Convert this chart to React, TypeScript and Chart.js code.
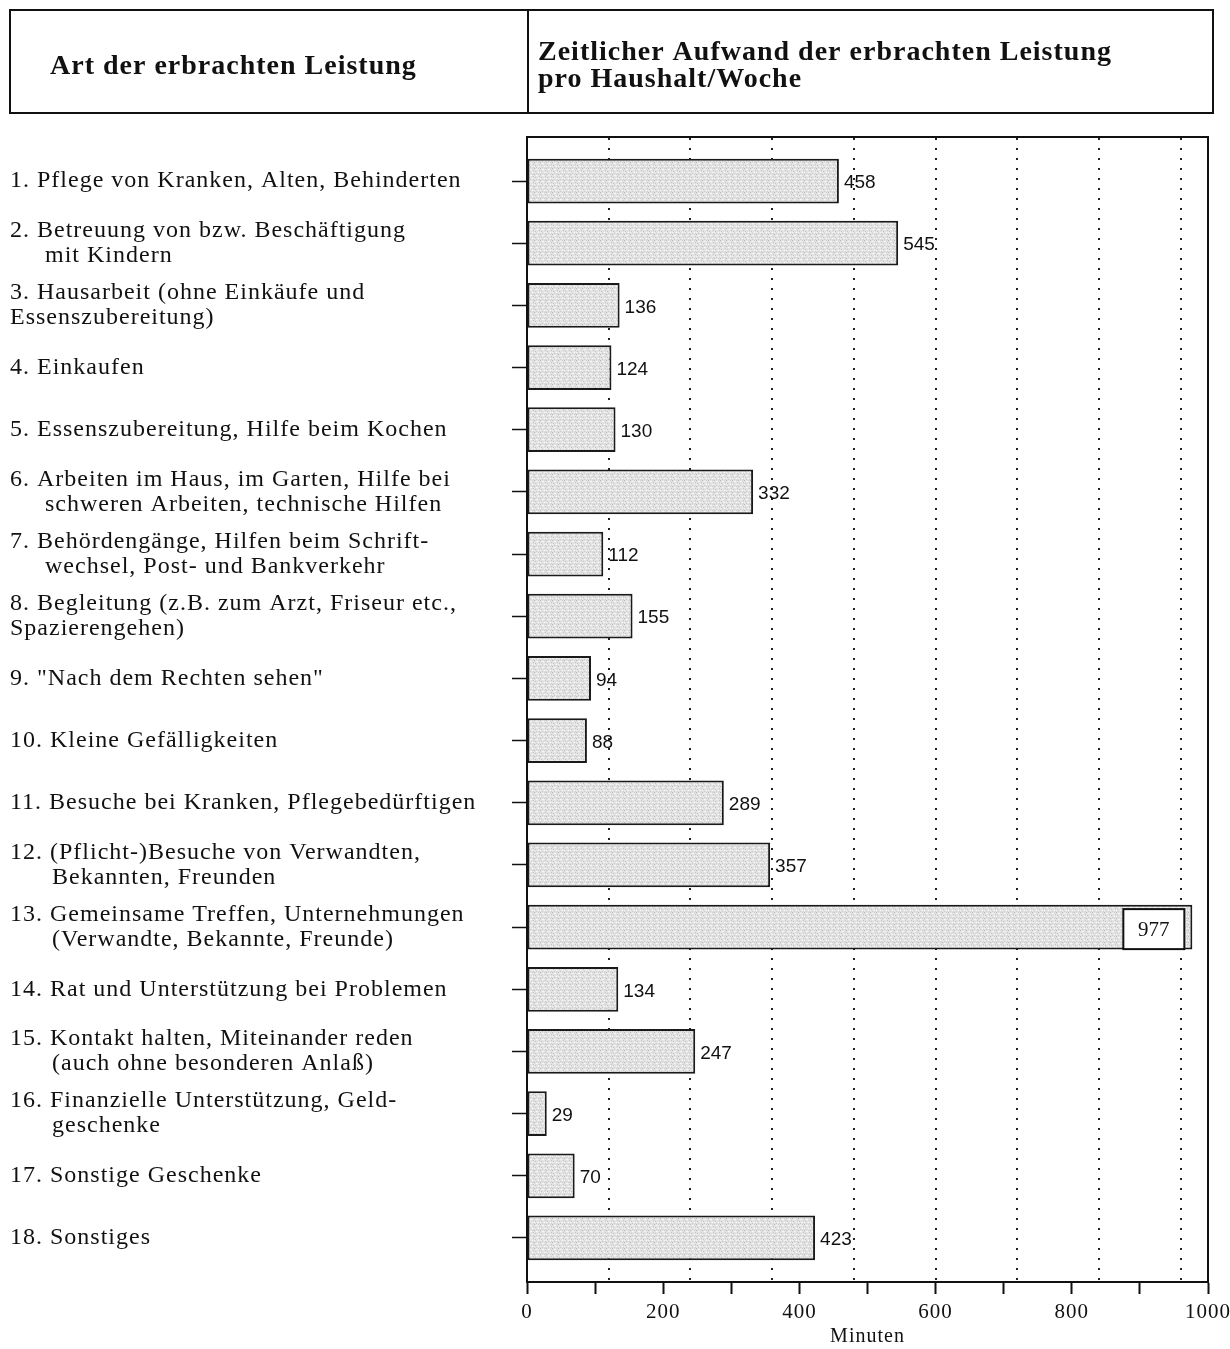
import React, { useEffect, useRef } from "react";
import { Chart, registerables } from "chart.js";

Chart.register(...registerables);

const categories: string[][] = [
  ["1. Pflege von Kranken, Alten, Behinderten"],
  ["2. Betreuung von bzw. Beschäftigung", "     mit Kindern"],
  ["3. Hausarbeit (ohne Einkäufe und", "Essenszubereitung)"],
  ["4. Einkaufen"],
  ["5. Essenszubereitung, Hilfe beim Kochen"],
  ["6. Arbeiten im Haus, im Garten, Hilfe bei", "     schweren Arbeiten, technische Hilfen"],
  ["7. Behördengänge, Hilfen beim Schrift-", "     wechsel, Post- und Bankverkehr"],
  ["8. Begleitung (z.B. zum Arzt, Friseur etc.,", "Spazierengehen)"],
  ['9. "Nach dem Rechten sehen"'],
  ["10. Kleine Gefälligkeiten"],
  ["11. Besuche bei Kranken, Pflegebedürftigen"],
  ["12. (Pflicht-)Besuche von Verwandten,", "      Bekannten, Freunden"],
  ["13. Gemeinsame Treffen, Unternehmungen", "      (Verwandte, Bekannte, Freunde)"],
  ["14. Rat und Unterstützung bei Problemen"],
  ["15. Kontakt halten, Miteinander reden", "      (auch ohne besonderen Anlaß)"],
  ["16. Finanzielle Unterstützung, Geld-", "      geschenke"],
  ["17. Sonstige Geschenke"],
  ["18. Sonstiges"],
];

const minutes: number[] = [458, 545, 136, 124, 130, 332, 112, 155, 94, 88, 289, 357, 977, 134, 247, 29, 70, 423];

const headerLeft = "Art der erbrachten Leistung";
const headerRight: string[] = ["Zeitlicher Aufwand der erbrachten Leistung", "pro Haushalt/Woche"];
const axisTitle = "Minuten";
const hourGridStep = 120;

const SERIF = "'Liberation Serif', 'Times New Roman', serif";
const SANS = "'Liberation Sans', Arial, sans-serif";

function makePattern(): CanvasPattern | string {
  const c = document.createElement("canvas");
  c.width = 6;
  c.height = 6;
  const g = c.getContext("2d");
  if (!g) return "#e2e2e2";
  g.fillStyle = "#e3e3e3";
  g.fillRect(0, 0, 6, 6);
  const px: [number, number, string][] = [
    [0, 0, "#b8b8b8"], [3, 1, "#f7f7f7"], [1, 3, "#c2c2c2"], [4, 4, "#fafafa"],
    [2, 5, "#cbcbcb"], [5, 2, "#c6c6c6"], [2, 1, "#f2f2f2"], [5, 5, "#d0d0d0"],
    [0, 4, "#f5f5f5"], [4, 0, "#d4d4d4"],
  ];
  px.forEach(([x, y, col]) => {
    g.fillStyle = col;
    g.fillRect(x, y, 1, 1);
  });
  return g.createPattern(c, "repeat") || "#e2e2e2";
}

const headerPlugin = {
  id: "header",
  beforeDraw(chart: any) {
    const ctx = chart.ctx;
    ctx.save();
    ctx.fillStyle = "#fff";
    ctx.fillRect(0, 0, chart.width, chart.height);
    ctx.strokeStyle = "#111";
    ctx.lineWidth = 2;
    ctx.strokeRect(10, 10, 1203, 103);
    ctx.beginPath();
    ctx.moveTo(528, 10);
    ctx.lineTo(528, 113);
    ctx.stroke();
    ctx.fillStyle = "#111";
    ctx.font = `bold 28px ${SERIF}`;
    if ("letterSpacing" in ctx) ctx.letterSpacing = "1px";
    ctx.textBaseline = "middle";
    ctx.textAlign = "left";
    ctx.fillText(headerLeft, 50, 67);
    headerRight.forEach((t, i) => ctx.fillText(t, 538, 53 + i * 27));
    ctx.restore();
    // slightly loose tracking for the axis texts, as in the printed original
    if ("letterSpacing" in ctx) ctx.letterSpacing = "1px";
  },
  beforeDatasetsDraw(chart: any) {
    const ctx = chart.ctx;
    if ("letterSpacing" in ctx) ctx.letterSpacing = "0px";
  },
};

const valueLabelPlugin = {
  id: "valueLabels",
  afterDatasetsDraw(chart: any) {
    const ctx = chart.ctx;
    const meta = chart.getDatasetMeta(0);
    const area = chart.chartArea;
    ctx.save();
    meta.data.forEach((bar: any, i: number) => {
      const txt = String(minutes[i]);
      ctx.font = `19px ${SANS}`;
      const w = ctx.measureText(txt).width;
      ctx.fillStyle = "#111";
      ctx.textBaseline = "middle";
      if (bar.x + 6 + w <= area.right) {
        ctx.textAlign = "left";
        ctx.fillText(txt, bar.x + 5, bar.y + 2);
      } else {
        const bw = 61;
        const bh = 40;
        const bx = bar.x - 8 - bw;
        const by = bar.y - bh / 2 + 2;
        ctx.fillStyle = "#fff";
        ctx.fillRect(bx, by, bw, bh);
        ctx.strokeStyle = "#111";
        ctx.lineWidth = 2;
        ctx.strokeRect(bx, by, bw, bh);
        ctx.fillStyle = "#111";
        ctx.font = `21px ${SERIF}`;
        ctx.textAlign = "center";
        ctx.fillText(txt, bx + bw / 2, by + bh / 2 + 1);
      }
    });
    ctx.restore();
  },
};

export default function App() {
  const ref = useRef<HTMLCanvasElement | null>(null);

  useEffect(() => {
    document.body.style.margin = "0";
    const canvas = ref.current;
    if (!canvas) return;
    const pattern = makePattern();
    const chart = new Chart(canvas, {
      type: "bar",
      data: {
        datasets: [
          {
            data: minutes.map((v, i) => ({ x: v, y: i })) as any,
            backgroundColor: pattern as any,
            borderColor: "#1a1a1a",
            borderWidth: 2,
            borderSkipped: false,
            barPercentage: 0.72,
            categoryPercentage: 1,
          },
        ],
      },
      options: {
        indexAxis: "y",
        responsive: false,
        animation: false,
        devicePixelRatio: 1,
        layout: { padding: { top: 137, left: 10, right: 22, bottom: 0 } },
        plugins: { legend: { display: false }, tooltip: { enabled: false } },
        scales: {
          x: {
            type: "linear",
            position: "bottom",
            min: 0,
            max: 1000,
            afterFit: (s: any) => {
              s.height = 67;
              s.paddingLeft = 0;
              s.paddingRight = 0;
            },
            ticks: {
              stepSize: 100,
              autoSkip: false,
              maxRotation: 0,
              padding: 6,
              color: "#111",
              font: { family: SERIF, size: 21 },
              callback: (v: any) => (Number(v) % 200 === 0 ? String(v) : ""),
            },
            grid: { drawOnChartArea: false, tickLength: 12, tickColor: "#111", tickWidth: 2 },
            border: { display: true, color: "#111", width: 2 },
            title: {
              display: true,
              text: axisTitle,
              color: "#111",
              font: { family: SERIF, size: 20 },
              padding: { top: 0, bottom: 0 },
            },
          },
          x2: {
            type: "linear",
            position: "top",
            min: 0,
            max: 1000,
            afterFit: (s: any) => {
              s.paddingLeft = 0;
              s.paddingRight = 0;
            },
            ticks: { display: false, stepSize: hourGridStep, includeBounds: false },
            grid: {
              drawTicks: false,
              lineWidth: 2,
              color: (c: any) =>
                c.tick && c.tick.value > 0 && c.tick.value < 1000 ? "#222" : "rgba(0,0,0,0)",
            },
            border: { display: true, color: "#111", width: 2, dash: [2, 8] },
          },
          y: {
            type: "linear",
            position: "left",
            reverse: true,
            offset: false,
            min: -0.708,
            max: 17.708,
            afterFit: (s: any) => {
              s.width = 517;
            },
            ticks: {
              stepSize: 1,
              includeBounds: false,
              autoSkip: false,
              crossAlign: "far",
              color: "#111",
              font: { family: SERIF, size: 24, lineHeight: 25 / 24 },
              callback: (v: any) => {
                const n = Number(v);
                return Number.isInteger(n) && categories[n] ? categories[n] : "";
              },
            },
            grid: { offset: false, drawOnChartArea: false, tickLength: 15, tickColor: "#111", tickWidth: 1.5 },
            border: { display: true, color: "#111", width: 2 },
          },
          y2: {
            type: "linear",
            position: "right",
            min: 0,
            max: 1,
            afterFit: (s: any) => {
              s.width = 0;
            },
            ticks: { display: false },
            grid: { drawOnChartArea: false, drawTicks: false },
            border: { display: true, color: "#111", width: 2 },
          },
        },
      } as any,
      plugins: [headerPlugin, valueLabelPlugin],
    });
    return () => chart.destroy();
  }, []);

  return (
    <div style={{ position: "absolute", left: 0, top: 0, width: 1230, height: 1349 }}>
      <canvas ref={ref} width={1230} height={1349} style={{ display: "block", width: 1230, height: 1349 }} />
    </div>
  );
}
